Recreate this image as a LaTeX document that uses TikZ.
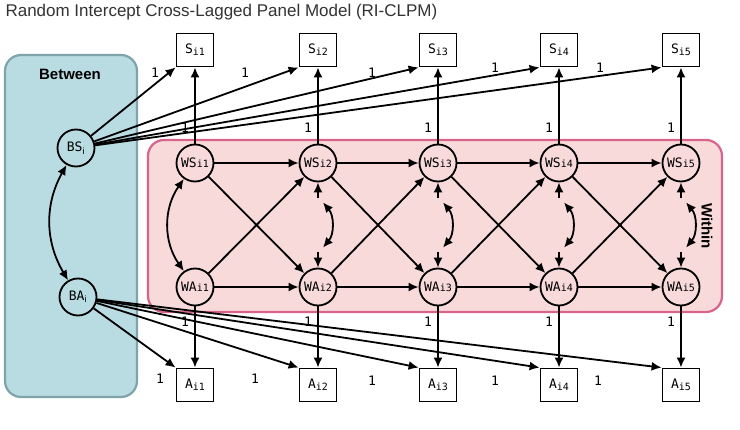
\documentclass[tikz,border=0pt]{standalone}
\usepackage{fontspec}
\setmainfont{Liberation Sans}
\newfontfamily\monof{DejaVu Sans Mono}
\usetikzlibrary{arrows.meta,calc}
\definecolor{betfill}{HTML}{B9DCE2}
\definecolor{betdraw}{HTML}{7FA3AA}
\definecolor{witfill}{HTML}{F8DADB}
\definecolor{witdraw}{HTML}{D8648C}
\begin{document}
\begin{tikzpicture}[x=1pt,y=-1pt,
  lat/.style={circle,draw,line width=1.8pt,minimum size=37pt,inner sep=0pt,font=\monof\fontsize{13}{13}\selectfont},
  obs/.style={rectangle,draw,line width=1.8pt,minimum width=37pt,minimum height=33pt,inner sep=0pt,font=\monof\fontsize{13}{13}\selectfont},
  arr/.style={line width=1.8pt,-{Latex[length=10pt,width=9pt]}},
  darr/.style={line width=1.8pt,{Latex[length=10pt,width=9pt]}-{Latex[length=10pt,width=9pt]}},
  one/.style={font=\monof\fontsize{13}{13}\selectfont,inner sep=1pt}]
\useasboundingbox (0,0) rectangle (740,430);
\node[anchor=west,font=\fontsize{17}{17}\selectfont,text=black!80] (title) at (2,12) {Random Intercept Cross-Lagged Panel Model (RI-CLPM)};
\draw[betdraw,fill=betfill,line width=2.2pt,rounded corners=16pt] (5,55) rectangle (137,397);
\node[font=\bfseries\fontsize{15}{15}\selectfont] (btw) at (70,74) {Between};
\draw[witdraw,fill=witfill,line width=2.2pt,rounded corners=16pt] (148,140) rectangle (722,312);
\node[font=\bfseries\fontsize{15}{15}\selectfont,rotate=-90] (wit) at (707,226) {Within};
\node[lat] (BS) at (76,148) {BS$_{\mathrm{i}}$};
\node[lat] (BA) at (78,297) {BA$_{\mathrm{i}}$};
\foreach \t/\x in {1/195,2/318,3/438,4/559,5/681}{
  \node[lat] (WS\t) at (\x,163) {WS{\fontsize{10}{10}\selectfont i\t}};
  \node[lat] (WA\t) at (\x,287) {WA{\fontsize{10}{10}\selectfont i\t}};
  \node[obs] (S\t) at (\x,50) {S{\fontsize{10}{10}\selectfont \raisebox{-2pt}{i\t}}};
  \node[obs] (A\t) at (\x,385) {A{\fontsize{10}{10}\selectfont \raisebox{-2pt}{i\t}}};
  \draw[arr] (WS\t) -- (S\t);
  \draw[arr] (WA\t) -- (A\t);
  \draw[arr] (BS) -- (S\t.south west);
  \draw[arr] (BA) -- (A\t.north west);
  \node[one] (ws\t) at (\x-10,128) {1};
  \node[one] (wa\t) at (\x-10,322) {1};
}
\node[one] (b1) at (155,73) {1};
\node[one] (b2) at (245,73) {1};
\node[one] (b3) at (372,73) {1};
\node[one] (b4) at (495,68) {1};
\node[one] (b5) at (600,68) {1};
\node[one] (c1) at (160,379) {1};
\node[one] (c2) at (255,379) {1};
\node[one] (c3) at (372,381) {1};
\node[one] (c4) at (495,381) {1};
\node[one] (c5) at (598,381) {1};
\draw[darr] (BS) to[bend right=30] (BA);
\draw[darr] (WS1) to[bend right=35] (WA1);
\foreach \a/\b in {1/2,2/3,3/4,4/5}{
  \draw[arr] (WS\a) -- (WS\b);
  \draw[arr] (WA\a) -- (WA\b);
  \draw[arr] (WS\a) -- (WA\b);
  \draw[arr] (WA\a) -- (WS\b);
  \coordinate (u\b) at ($(WS\b.south)+(0,16)$);
  \coordinate (d\b) at ($(WA\b.north)+(0,-16)$);
  \draw[arr] (u\b) -- (WS\b.south);
  \draw[arr] (d\b) -- (WA\b.north);
  \coordinate (cu\b) at ($(WS\b.south)+(5,20)$);
  \coordinate (cd\b) at ($(WA\b.north)+(5,-20)$);
  \draw[darr] (cu\b) to[bend left=40] (cd\b);
}
\end{tikzpicture}
\end{document}
